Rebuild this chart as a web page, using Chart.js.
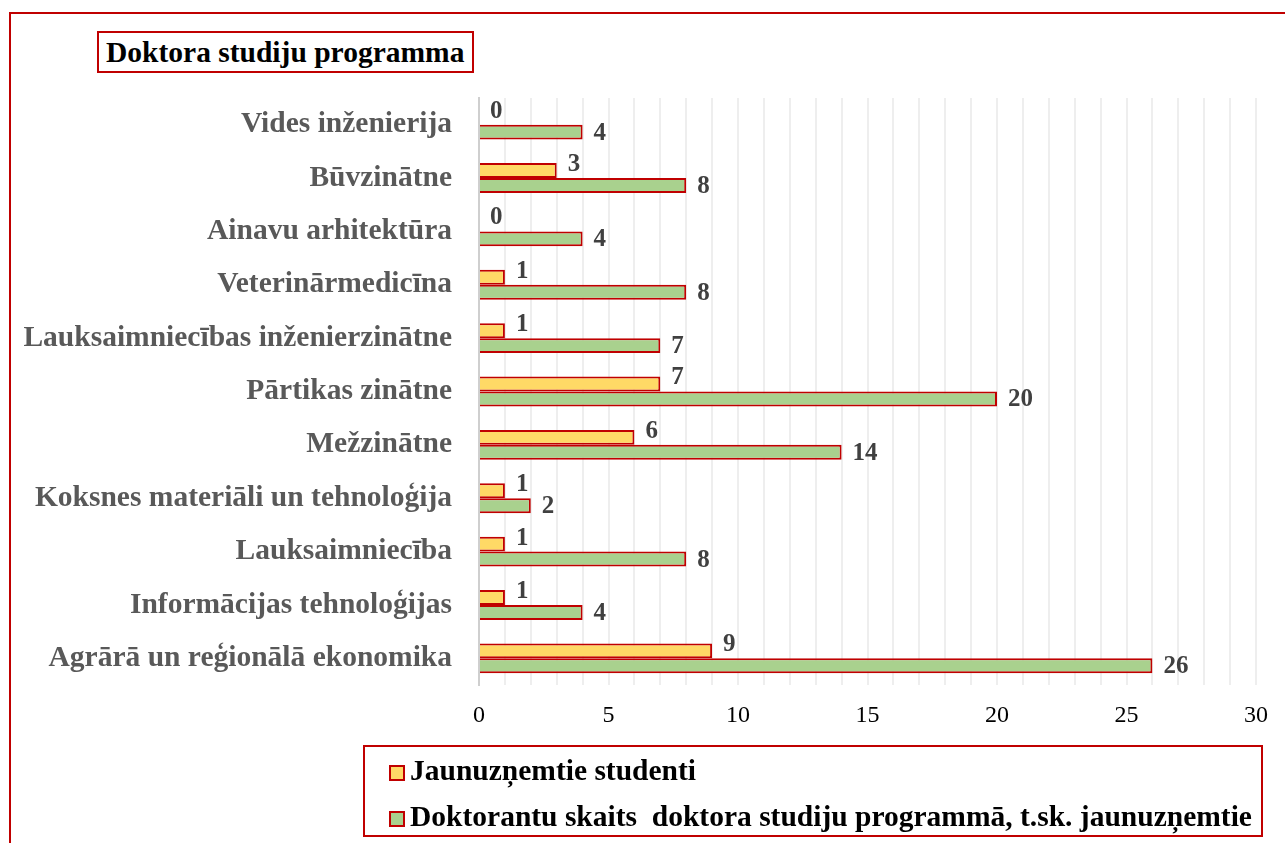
<!DOCTYPE html>
<html>
<head>
    <title>Doktora studiju programma</title>
    <script src="https://cdn.jsdelivr.net/npm/chart.js"></script>
    <style>
        body { margin: 0; overflow: hidden; background: #fff; }
        #wrap { position: relative; width: 1285px; height: 843px; overflow: hidden; }
        #frame { position: absolute; left: 9px; top: 12px; width: 1300px; height: 860px; border: 2px solid #c00000; }
        #chart { position: absolute; left: 0; top: 0; }
        #title { position: absolute; left: 97px; top: 31px; width: 366px; height: 38px; border: 2px solid #c00000;
                 font: bold 29.5px "Liberation Serif", "Times New Roman", serif; color: #000; line-height: 38px; padding-left: 7px; background: #fff; white-space: nowrap; }
        #legend { position: absolute; left: 363px; top: 745px; width: 896px; height: 88px; border: 2px solid #c00000;
                  font: bold 29.5px "Liberation Serif", "Times New Roman", serif; color: #000; }
        .row { position: absolute; left: 24px; height: 30px; line-height: 30px; white-space: pre; }
        .box { display: inline-block; width: 12px; height: 12px; border: 2px solid #c00000; vertical-align: -1px; margin-right: 5px; }
    </style>
</head>
<body>
<div id="wrap">
    <div id="frame"></div>
    <canvas id="chart" width="1285" height="843"></canvas>
    <div id="title">Doktora studiju programma</div>
    <div id="legend"></div>
</div>
<script>
    const categories = [
        'Vides inženierija',
        'Būvzinātne',
        'Ainavu arhitektūra',
        'Veterinārmedicīna',
        'Lauksaimniecības inženierzinātne',
        'Pārtikas zinātne',
        'Mežzinātne',
        'Koksnes materiāli un tehnoloģija',
        'Lauksaimniecība',
        'Informācijas tehnoloģijas',
        'Agrārā un reģionālā ekonomika'
    ];
    const newStudents = [0, 3, 0, 1, 1, 7, 6, 1, 1, 1, 9];
    const doctoralStudents = [4, 8, 4, 8, 7, 20, 14, 2, 8, 4, 26];
    const seriesNames = ['Jaunuzņemtie studenti', 'Doktorantu skaits  doktora studiju programmā, t.sk. jaunuzņemtie'];
    const seriesColors = ['#ffd966', '#a9d18e'];
    const xTicks = [0, 5, 10, 15, 20, 25, 30];

    const serif = '"Liberation Serif", "Times New Roman", serif';

    // legend rows (html, so the text stays text)
    const legend = document.getElementById('legend');
    seriesNames.forEach((name, i) => {
        const row = document.createElement('div');
        row.className = 'row';
        row.style.top = (8 + i * 46) + 'px';
        const box = document.createElement('span');
        box.className = 'box';
        box.style.background = seriesColors[i];
        row.appendChild(box);
        row.appendChild(document.createTextNode(name));
        legend.appendChild(row);
    });

    // value labels next to the bar ends
    const valueLabels = {
        id: 'valueLabels',
        afterDatasetsDraw(chart) {
            const ctx = chart.ctx;
            ctx.save();
            ctx.font = 'bold 25px ' + serif;
            ctx.fillStyle = '#404040';
            ctx.textAlign = 'left';
            ctx.textBaseline = 'middle';
            chart.data.datasets.forEach((ds, di) => {
                const meta = chart.getDatasetMeta(di);
                meta.data.forEach((bar, i) => {
                    const dy = di === 0 ? -6 : 1;
                    ctx.fillText(ds.data[i], bar.x + 11, bar.y + dy);
                });
            });
            ctx.restore();
        }
    };

    new Chart(document.getElementById('chart').getContext('2d'), {
        type: 'bar',
        data: {
            labels: categories,
            datasets: [
                {
                    label: seriesNames[0],
                    data: newStudents,
                    backgroundColor: seriesColors[0],
                    borderColor: '#c00000',
                    borderWidth: 2
                },
                {
                    label: seriesNames[1],
                    data: doctoralStudents,
                    backgroundColor: seriesColors[1],
                    borderColor: '#c00000',
                    borderWidth: 2
                }
            ]
        },
        options: {
            indexAxis: 'y',
            responsive: false,
            animation: false,
            datasets: { bar: { categoryPercentage: 0.56, barPercentage: 1 } },
            layout: { padding: { left: 0, top: 98, right: 29, bottom: 0 } },
            plugins: {
                legend: { display: false },
                tooltip: { enabled: false }
            },
            scales: {
                x: {
                    min: 0,
                    max: 30,
                    afterFit: s => { s.height = 158; },
                    grid: {
                        color: c => c.tick && c.tick.value === 0 ? 'rgba(0,0,0,0)' : '#eeeeee',
                        lineWidth: 2,
                        drawTicks: false
                    },
                    border: { display: false },
                    ticks: {
                        stepSize: 1,
                        autoSkip: false,
                        maxRotation: 0,
                        padding: 16,
                        color: '#000',
                        font: { family: serif, size: 24 },
                        callback: v => xTicks.includes(v) ? v : ''
                    }
                },
                y: {
                    afterFit: s => { s.width = 479; },
                    grid: { display: false, drawTicks: false },
                    border: { display: true, color: '#cfcfcf', width: 2 },
                    ticks: {
                        padding: 27,
                        color: '#595959',
                        font: { family: serif, size: 29.5, weight: 'bold' }
                    }
                }
            }
        },
        plugins: [valueLabels]
    });
</script>
</body>
</html>
